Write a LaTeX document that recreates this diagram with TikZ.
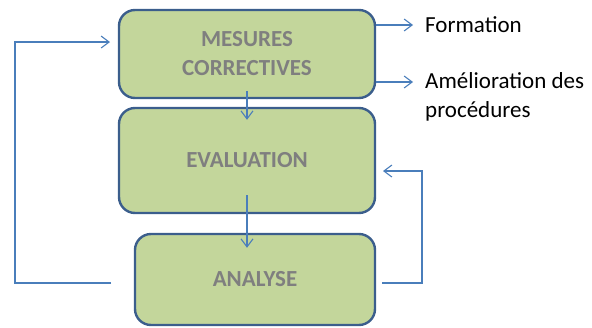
\documentclass[tikz,border=0pt]{standalone}
\usepackage{fontspec}
\setmainfont{Carlito}
\usetikzlibrary{arrows.meta}
\definecolor{boxfill}{HTML}{C3D69B}
\definecolor{boxline}{HTML}{3B5E8C}
\definecolor{conncol}{HTML}{4A7EBB}
\definecolor{boxtext}{HTML}{7F7F7F}
\tikzset{
  stagebox/.style={draw=boxline, line width=2.4pt, fill=boxfill, rounded corners=16pt,
    minimum width=#1, inner sep=0pt, align=center, text=boxtext,
    font=\fontsize{23}{29}\selectfont\bfseries},
  conn/.style={draw=conncol, line width=1.1pt, -{Straight Barb[length=8pt,width=12pt,line width=1.1pt]}},
  label/.style={inner sep=0pt, align=left, font=\fontsize{23}{29}\selectfont}
}
\begin{document}
\begin{tikzpicture}[x=1pt,y=-1pt]
\useasboundingbox (0,0) rectangle (592,327);
\node[stagebox=256pt, minimum height=88pt] (b1) at (247,54) {MESURES\\CORRECTIVES};
\node[stagebox=256pt, minimum height=105pt] (b2) at (247,160.5) {EVALUATION};
\node[stagebox=240pt, minimum height=91pt] (b3) at (255,279.5) {\raisebox{-3pt}{ANALYSE}};
% vertical arrows
\draw[conn, shorten <=-8pt, shorten >=-13pt] (b1.south) -- (b2.north);
\draw[conn, shorten <=-19pt, shorten >=-15pt] (b2.south) -- (b2.south |- b3.north);
% feedback loops
\coordinate (l1) at (111,283);
\coordinate (l2) at (110,42);
\draw[conn] (l1) -- (15,283) -- (15,42) -- (l2);
\coordinate (r1) at (382,283);
\coordinate (r2) at (383,171);
\draw[conn] (r1) -- (422,283) -- (422,171) -- (r2);
% outputs
\node[label, anchor=base west] (t1) at (425,32) {Formation};
\node[label, anchor=north west] (t2) at (425,72) {Amélioration des\\procédures};
\draw[conn] (b1.east |- 0,25) -- (413,25);
\draw[conn] (b1.east |- 0,82) -- (413,82);
\end{tikzpicture}
\end{document}
